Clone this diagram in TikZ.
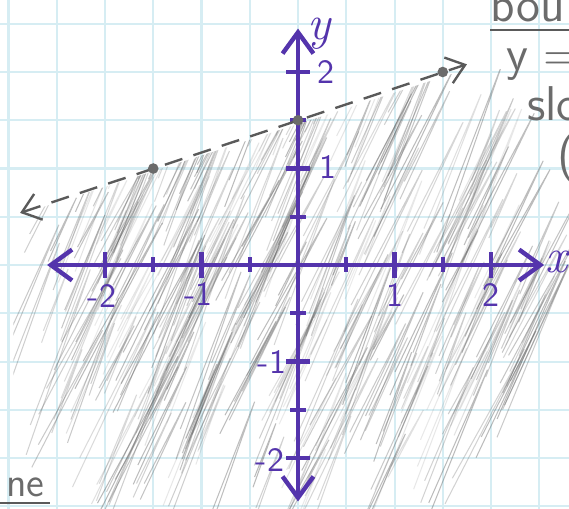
\documentclass[tikz,border=0pt]{standalone}
\usetikzlibrary{arrows.meta}
\definecolor{axispurple}{RGB}{84,52,172}
\definecolor{gridblue}{RGB}{214,237,243}
\definecolor{pencilgray}{RGB}{90,90,90}
\begin{document}
\begin{tikzpicture}[
    gridline/.style={gridblue, line width=0.6pt},
    axis/.style={axispurple, line width=1.3pt, {Straight Barb[length=2.2mm,width=3.2mm]}-{Straight Barb[length=2.2mm,width=3.2mm]}},
    tick/.style={axispurple, line width=1.3pt},
    ticklabel/.style={axispurple, font=\sffamily, inner sep=1pt},
    pencil/.style={pencilgray, line width=0.3pt},
    boundary/.style={pencilgray, line width=0.7pt, dash pattern=on 1.9mm off 1.2mm, {Straight Barb[length=1.8mm,width=2.8mm]}-{Straight Barb[length=1.8mm,width=2.8mm]}},
    dot/.style={circle, fill=pencilgray!90, inner sep=0pt, minimum size=1.1mm},
    note/.style={pencilgray!90, font=\sffamily\Large, inner sep=0pt}
]
    % Paper
    \fill[white] (-3.088,-2.518) rectangle (2.808,2.746);
    \useasboundingbox (-3.088,-2.518) rectangle (2.808,2.746);
    \draw[gridline] (-3.1,-2.55) grid[step=0.5] (2.85,2.8);

    % Shading below the boundary line
    \begin{scope}
        \clip (-2.95,0.50) -- (1.75,2.03) -- (2.9,2.03) -- (2.9,-2.6) -- (-2.95,-2.6) -- cycle;
        \pgfmathsetseed{42}
        \foreach \i in {1,...,480}{
            \pgfmathsetmacro\sx{-3.8+6.8*rnd}
            \pgfmathsetmacro\sy{-3.0+5.0*rnd}
            \pgfmathsetmacro\len{0.7+1.4*rnd}
            \pgfmathsetmacro\ang{62+9*rnd}
            \pgfmathsetmacro\op{0.12+0.3*rnd}
            \pgfmathsetmacro\mx{\sx+0.5*\len*cos(\ang)}
            \pgfmathsetmacro\my{\sy+0.5*\len*sin(\ang)}
            \pgfmathtruncatemacro\inside{((\mx+0.1)/2.7)^2+((\my+0.2)/2.3)^2<1}
            \ifnum\inside=1
                \draw[pencil, opacity=\op] (\sx,\sy) -- ++(\ang:\len)
                    -- ++(\ang+178:0.85*\len);
            \fi
        }
    \end{scope}

    % Axes
    \coordinate (xmin) at (-2.6,0);
    \coordinate (xmax) at (2.55,0);
    \coordinate (ymin) at (0,-2.45);
    \coordinate (ymax) at (0,2.45);
    \draw[axis] (xmin) -- (xmax);
    \draw[axis] (ymin) -- (ymax);
    \node[axispurple, font=\Large\itshape] (xlabel) at (2.68,0.03) {x};
    \node[axispurple, font=\Large\itshape] (ylabel) at (0.22,2.40) {y};

    % Ticks
    \foreach \t in {-2,-1,1,2}{
        \draw[tick] (\t,-0.13) -- (\t,0.13);
        \draw[tick] (-0.12,\t) -- (0.12,\t);
    }
    \foreach \t in {-1.5,-0.5,0.5,1.5}{
        \draw[tick] (\t,-0.07) -- (\t,0.08);
        \draw[tick] (-0.08,\t) -- (0.08,\t);
    }
    \node[ticklabel] (xm2) at (-2.03,-0.32) {-2};
    \node[ticklabel] (xm1) at (-1.03,-0.30) {-1};
    \node[ticklabel] (xp1) at (1.0,-0.31) {1};
    \node[ticklabel] (xp2) at (2.0,-0.31) {2};
    \node[ticklabel] (yp2) at (0.29,2.0) {2};
    \node[ticklabel] (yp1) at (0.31,1.02) {1};
    \node[ticklabel] (ym1) at (-0.27,-1.0) {-1};
    \node[ticklabel] (ym2) at (-0.29,-2.02) {-2};

    % Boundary line y = x/3 + 3/2
    \coordinate (bl) at (-2.88,0.54);
    \coordinate (br) at (1.75,2.08);
    \draw[boundary] (bl) -- (br);
    \node[dot] (p1) at (-1.5,1) {};
    \node[dot] (p2) at (0,1.5) {};
    \node[dot] (p3) at (1.5,2) {};

    % Notes at the edges
    \node[note, anchor=base west] (title) at (1.99,2.52) {bou};
    \draw[pencilgray, line width=0.6pt] (1.99,2.435) -- (2.85,2.435);
    \node[note, anchor=base west] (eqn) at (2.15,2.02) {y = -};
    \node[note, anchor=base west] (slope) at (2.37,1.50) {slo};
    \node[note, anchor=base west] (paren) at (2.68,0.98) {(};
    \node[note, font=\sffamily\large, anchor=base east] (word) at (-2.62,-2.40) {ne};
    \draw[pencilgray, line width=0.6pt] (-3.1,-2.47) -- (-2.57,-2.47);
\end{tikzpicture}
\end{document}
